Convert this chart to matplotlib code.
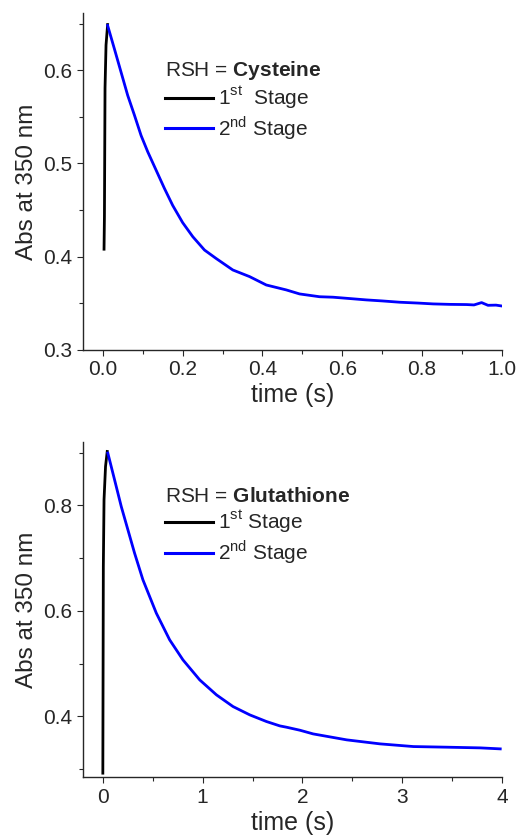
import matplotlib
matplotlib.use('Agg')
import matplotlib.pyplot as plt
from matplotlib.ticker import MultipleLocator
from matplotlib.lines import Line2D

plt.rcParams['font.family'] = ['Liberation Sans', 'DejaVu Sans']
plt.rcParams['mathtext.fontset'] = 'custom'
plt.rcParams['mathtext.rm'] = 'Liberation Sans'
plt.rcParams['mathtext.bf'] = 'Liberation Sans:bold'

# cysteine trace
cys_t1 = [0.003, 0.004, 0.0055, 0.008, 0.012]
cys_a1 = [0.408, 0.443, 0.581, 0.627, 0.649]
cys_t2 = [0.012, 0.0289, 0.0456, 0.0623, 0.079, 0.0958, 0.1125, 0.129, 0.154, 0.175,
          0.200, 0.2254, 0.2547, 0.284, 0.3257, 0.3676, 0.4095, 0.4597, 0.493, 0.543,
          0.5767, 0.620, 0.660, 0.700, 0.744, 0.790, 0.8277, 0.870, 0.9114, 0.930,
          0.949, 0.965, 0.985, 0.9992]
cys_a2 = [0.648, 0.623, 0.598, 0.573, 0.552, 0.530, 0.5125, 0.497, 0.4735, 0.455,
          0.4365, 0.4214, 0.4071, 0.398, 0.3857, 0.3786, 0.3696, 0.3643, 0.360, 0.357,
          0.3565, 0.355, 0.3536, 0.3525, 0.3511, 0.3502, 0.3493, 0.3488, 0.3486, 0.3482,
          0.3507, 0.3478, 0.3480, 0.3471]

# glutathione trace
glu_t1 = [0.0, 0.005, 0.012, 0.027, 0.044]
glu_a1 = [0.292, 0.684, 0.811, 0.874, 0.9025]
glu_t2 = [0.05, 0.1175, 0.1847, 0.251, 0.318, 0.4016, 0.536, 0.6697, 0.803, 0.971,
          1.1386, 1.305, 1.473, 1.64, 1.774, 1.841, 1.975, 2.108, 2.444, 2.778,
          3.113, 3.448, 3.782, 3.983]
glu_a2 = [0.8995, 0.8488, 0.798, 0.754, 0.7096, 0.659, 0.5957, 0.545, 0.507, 0.469,
          0.4406, 0.4184, 0.4026, 0.390, 0.3817, 0.3792, 0.3735, 0.3665, 0.3552, 0.3476,
          0.3425, 0.3413, 0.340, 0.3381]

ink = '#262626'
fig = plt.figure(figsize=(5.18, 8.35), dpi=100)


def style(ax, xlim, ylim, xmaj, ymaj):
    ax.set_xlim(*xlim)
    ax.set_ylim(*ylim)
    for s in ['top', 'right']:
        ax.spines[s].set_visible(False)
    for s in ['left', 'bottom']:
        ax.spines[s].set_color(ink)
        ax.spines[s].set_linewidth(1.0)
    ax.xaxis.set_major_locator(MultipleLocator(xmaj))
    ax.xaxis.set_minor_locator(MultipleLocator(xmaj / 2))
    ax.yaxis.set_major_locator(MultipleLocator(ymaj))
    ax.yaxis.set_minor_locator(MultipleLocator(ymaj / 2))
    ax.tick_params(which='major', direction='out', length=4.3, width=0.8,
                   colors=ink, labelsize=15, pad=3)
    ax.tick_params(which='minor', direction='out', length=2.9, width=0.8, colors=ink)
    ax.set_xlabel('time (s)', fontsize=18, color=ink, labelpad=3)
    ax.set_ylabel('Abs at 350 nm', fontsize=17.5, color=ink, labelpad=4)


def add_legend(ax, name, first):
    handles = [Line2D([], [], color='black', lw=2.2),
               Line2D([], [], color='blue', lw=2.2)]
    labels = [first, r'2$^{\mathrm{nd}}$ Stage']
    leg = ax.legend(handles, labels, title='RSH = $\\mathbf{' + name + '}$',
                    loc='upper left', bbox_to_anchor=(0.195, 0.865), frameon=False,
                    fontsize=15, title_fontsize=15, handlelength=2.3,
                    handletextpad=0.25, labelspacing=0.15, borderpad=0,
                    borderaxespad=0, alignment='left')
    for t in leg.get_texts():
        t.set_color(ink)
    leg.get_title().set_color(ink)


ax1 = fig.add_axes([0.160, 0.581, 0.809, 0.403])
ax1.plot(cys_t1, cys_a1, color='black', lw=2.0)
ax1.plot(cys_t2, cys_a2, color='blue', lw=2.0)
style(ax1, (-0.05, 1.0), (0.3, 0.661), 0.2, 0.1)
add_legend(ax1, 'Cysteine', r'1$^{\mathrm{st}}$  Stage')

ax2 = fig.add_axes([0.160, 0.069, 0.809, 0.402])
ax2.plot(glu_t1, glu_a1, color='black', lw=2.0)
ax2.plot(glu_t2, glu_a2, color='blue', lw=2.0)
style(ax2, (-0.2, 4.0), (0.284, 0.921), 1, 0.2)
add_legend(ax2, 'Glutathione', r'1$^{\mathrm{st}}$ Stage')

fig.savefig('out.png', dpi=100)
